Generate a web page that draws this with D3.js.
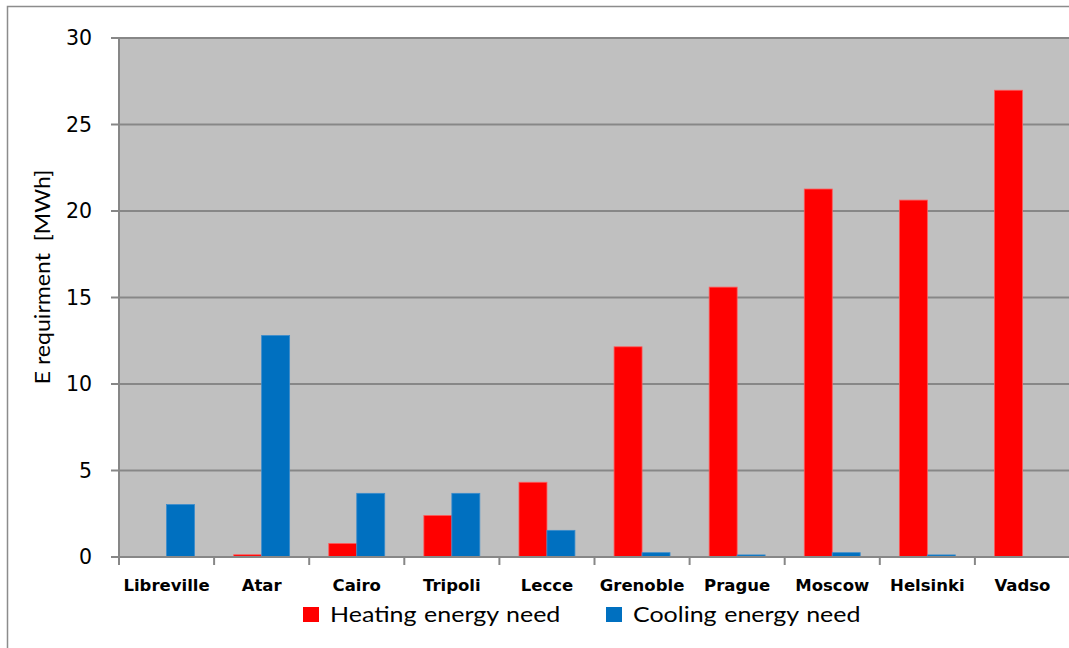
<!DOCTYPE html>
<html>
<head>
<meta charset="utf-8">
<script src="https://cdn.jsdelivr.net/npm/d3@7/dist/d3.min.js"></script>
<style>
  html, body { margin: 0; padding: 0; background: #fff; overflow: hidden; }
  svg { display: block; overflow: hidden; }
</style>
</head>
<body>
<div id="chart"></div>
<script>
// data
var cities = ["Libreville", "Atar", "Cairo", "Tripoli", "Lecce", "Grenoble", "Prague", "Moscow", "Helsinki", "Vadso"];
var heating = [0, 0.13, 0.78, 2.4, 4.32, 12.15, 15.6, 21.27, 20.63, 26.98];
var cooling = [3.03, 12.8, 3.68, 3.68, 1.54, 0.25, 0.12, 0.25, 0.12, 0];
var seriesNames = ["Heating energy need", "Cooling energy need"];
var seriesColors = ["#ff0000", "#0070c0"];
var yTicks = [0, 5, 10, 15, 20, 25, 30];

var W = 1069, H = 648;
var margin = { top: 38, right: -1, bottom: 91, left: 119 };
var width = W - margin.left - margin.right;
var height = H - margin.top - margin.bottom;

var rows = cities.map(function(c, i) {
    return { city: c, values: [heating[i], cooling[i]] };
});

var svg = d3.select("#chart").append("svg")
    .attr("width", W)
    .attr("height", H);

// outer chart frame (only left and top edges are visible)
svg.append("rect")
    .attr("x", 7.5).attr("y", 6.5)
    .attr("width", W + 10).attr("height", H + 10)
    .attr("fill", "#fff")
    .attr("stroke", "#8c8c8c")
    .attr("stroke-width", 1.5);

var g = svg.append("g")
    .attr("transform", "translate(" + margin.left + "," + margin.top + ")");

var x = d3.scaleBand().domain(cities).range([0, width]).padding(0);
var xs = d3.scaleBand().domain([0, 1]).range([0, x.bandwidth()]).paddingInner(0).paddingOuter(0.7);
var y = d3.scaleLinear().domain([0, 30]).range([height, 0]);

// plot background
g.append("rect")
    .attr("width", width).attr("height", height)
    .attr("fill", "#c0c0c0");

// gridlines (with the little tick stub on the left)
g.append("g").selectAll("line")
    .data(yTicks)
    .enter().append("line")
    .attr("x1", -8).attr("x2", width)
    .attr("y1", function(d) { return y(d); })
    .attr("y2", function(d) { return y(d); })
    .attr("stroke", "#878787")
    .attr("stroke-width", 2);

// bars
var groups = g.selectAll(".city")
    .data(rows)
    .enter().append("g")
    .attr("class", "city")
    .attr("transform", function(d) { return "translate(" + x(d.city) + ",0)"; });

groups.selectAll("rect")
    .data(function(d) { return d.values; })
    .enter().append("rect")
    .attr("x", function(d, i) { return xs(i); })
    .attr("width", xs.bandwidth())
    .attr("y", function(d) { return y(d); })
    .attr("height", function(d) { return height - y(d); })
    .attr("fill", function(d, i) { return seriesColors[i]; })
    .attr("stroke", function(d, i) { return i == 0 ? "#ff5a5a" : "#3a8ccc"; })
    .attr("stroke-width", function(d) { return d > 0 ? 0.8 : 0; });

// left axis line
g.append("line")
    .attr("x1", 0).attr("x2", 0)
    .attr("y1", 0).attr("y2", height)
    .attr("stroke", "#878787").attr("stroke-width", 2);

// bottom axis with category ticks
var xTickPos = cities.map(function(c) { return x(c); }).concat([width]);
g.append("g").selectAll("line")
    .data(xTickPos)
    .enter().append("line")
    .attr("x1", function(d) { return d; }).attr("x2", function(d) { return d; })
    .attr("y1", height).attr("y2", height + 8)
    .attr("stroke", "#878787").attr("stroke-width", 2);

g.append("line")
    .attr("x1", -8).attr("x2", width)
    .attr("y1", height).attr("y2", height)
    .attr("stroke", "#878787").attr("stroke-width", 2);

// y tick labels
g.append("g").selectAll("text")
    .data(yTicks)
    .enter().append("text")
    .attr("x", -27)
    .attr("y", function(d) { return y(d); })
    .attr("dy", "0.36em")
    .attr("text-anchor", "end")
    .style("font", "20.5px 'DejaVu Sans', sans-serif")
    .attr("fill", "#000")
    .text(function(d) { return d; });

// category labels
g.append("g").selectAll("text")
    .data(cities)
    .enter().append("text")
    .attr("x", function(d) { return x(d) + x.bandwidth() / 2; })
    .attr("y", height + 34)
    .attr("text-anchor", "middle")
    .style("font", "bold 16.5px 'DejaVu Sans', sans-serif")
    .attr("fill", "#000")
    .text(function(d) { return d; });

// y axis title
svg.append("text")
    .attr("transform", "translate(50,277) rotate(-90) scale(1.1,1)")
    .attr("text-anchor", "middle")
    .style("font", "21px Lato, sans-serif")
    .attr("fill", "#000")
    .attr("xml:space", "preserve")
    .text("E requirment  [MWh]");

// legend
var legend = svg.append("g").attr("transform", "translate(303,607)");
var legX = [0, 303];
seriesNames.forEach(function(name, i) {
    var lg = legend.append("g").attr("transform", "translate(" + legX[i] + ",0)");
    lg.append("rect")
        .attr("width", 16).attr("height", 15)
        .attr("fill", seriesColors[i]);
    lg.append("text")
        .attr("transform", "translate(27,15) scale(1.19,1)")
        .style("font", "21px Lato, sans-serif")
        .style("word-spacing", "1px")
        .attr("fill", "#000")
        .text(name);
});
</script>
</body>
</html>
